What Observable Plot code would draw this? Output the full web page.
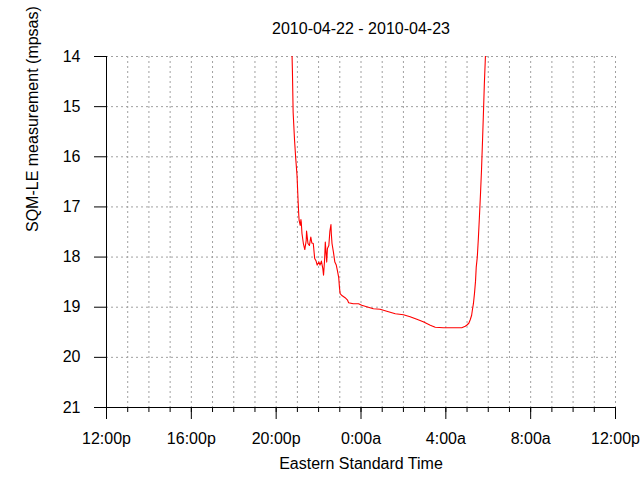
<!DOCTYPE html>
<html>
<head>
<meta charset="utf-8">
<script src="https://cdn.jsdelivr.net/npm/d3@7"></script>
<script src="https://cdn.jsdelivr.net/npm/@observablehq/plot@0.6"></script>
<style>
  html, body { margin: 0; padding: 0; background: #fff; }
  #chart svg { display: block; }
</style>
</head>
<body>
<div id="chart"></div>
<script>
// Chart texts
const titleText = "2010-04-22 - 2010-04-23";
const xLabel = "Eastern Standard Time";
const yLabel = "SQM-LE measurement (mpsas)";

// Tick values / labels (x in hours since 12:00 on 2010-04-22)
const xMajorTicks = [0, 4, 8, 12, 16, 20, 24];
const xTickLabels = ["12:00p", "16:00p", "20:00p", "0:00a", "4:00a", "8:00a", "12:00p"];
const xMinorTicks = [0,1,2,3,4,5,6,7,8,9,10,11,12,13,14,15,16,17,18,19,20,21,22,23,24];
const yTicks = [14, 15, 16, 17, 18, 19, 20, 21];
const yGrid = [14, 15, 16, 17, 18, 19, 20];
const xGrid = [1,2,3,4,5,6,7,8,9,10,11,12,13,14,15,16,17,18,19,20,21,22,23,24];

// Readings (clock time, EST) and SQM values (mpsas)
const times = [
  "20:44","20:46","20:48","20:52","20:55","20:59","21:02","21:04","21:05","21:08",
  "21:10","21:11","21:13","21:17","21:21","21:25","21:26","21:30","21:34","21:38",
  "21:41","21:45","21:49","21:53","21:56","22:01","22:04","22:08","22:12","22:14",
  "22:17","22:19","22:23","22:25","22:29","22:32","22:35","22:36","22:38","22:42",
  "22:46","22:50","22:53","22:57","22:59","23:01","23:05","23:15","23:22","23:25",
  "23:38","23:53","00:02","00:16","00:35","00:54","01:13","01:37","02:00","02:19",
  "02:38","02:56","03:16","03:30","03:53","04:22","04:45","04:55","04:59","05:05",
  "05:09","05:13","05:15","05:18","05:21","05:24","05:26","05:29","05:32","05:35",
  "05:38","05:41","05:44","05:46","05:49","05:52","05:55"
];
const values = [
  13.70,14.30,15.11,15.67,16.00,16.37,16.87,17.17,17.27,17.37,
  17.25,17.30,17.53,17.73,17.85,17.67,17.48,17.73,17.77,17.60,
  17.72,17.73,18.03,18.08,18.16,18.10,18.16,18.08,18.23,18.36,
  18.06,17.70,18.10,17.83,17.77,17.48,17.35,17.53,17.73,17.90,
  18.10,18.16,18.26,18.41,18.60,18.73,18.76,18.81,18.86,18.91,
  18.93,18.93,18.96,18.99,19.03,19.04,19.08,19.13,19.15,19.19,
  19.24,19.29,19.36,19.40,19.41,19.41,19.41,19.38,19.36,19.32,
  19.25,19.16,19.06,18.93,18.73,18.48,18.20,18.00,17.63,17.20,
  16.75,16.25,15.64,15.21,14.54,14.00,13.40
];

function hoursSinceNoon(t) {
  const [hh, mm] = t.split(":").map(Number);
  return ((hh - 12 + 24) % 24) + mm / 60;
}
const data = times.map((t, i) => ({h: hoursSinceNoon(t), v: values[i]}));

const FONT = "'Liberation Sans', Arial, sans-serif";
const gridStyle = {stroke: "#a0a0a0", strokeDasharray: "2,3", strokeWidth: 1};

const chart = Plot.plot({
  width: 640,
  height: 480,
  marginTop: 56,
  marginBottom: 73,
  marginLeft: 106,
  marginRight: 25,
  style: {background: "#fff", color: "#000", fontFamily: FONT, fontSize: "16px"},
  x: {domain: [0, 24], type: "linear"},
  y: {domain: [14, 21], reverse: true},
  marks: [
    Plot.ruleY(yGrid, gridStyle),
    Plot.ruleX(xGrid, gridStyle),
    Plot.line(data, {x: "h", y: "v", stroke: "#ff0000", strokeWidth: 1.1, clip: true}),
    Plot.ruleX([0], {stroke: "#000"}),
    Plot.ruleY([21], {stroke: "#000"}),
    Plot.axisY({ticks: yTicks, tickSize: 12, tickPadding: 14, label: null, tickFormat: d => String(d), fontSize: 16}),
    Plot.axisX({ticks: xMinorTicks, tickSize: 5, tickFormat: () => "", label: null}),
    Plot.axisX({ticks: xMajorTicks, tickSize: 12, tickPadding: 13, label: null,
      tickFormat: (d) => xTickLabels[xMajorTicks.indexOf(d)], fontSize: 16}),
    Plot.text([titleText], {frameAnchor: "top", dy: -34, fontSize: 16, fill: "#000"}),
    Plot.text([xLabel], {frameAnchor: "bottom", dy: 61, fontSize: 16, fill: "#000"}),
    Plot.text([yLabel], {frameAnchor: "left", dx: -74, rotate: -90, fontSize: 16, fill: "#000"})
  ]
});
document.getElementById("chart").appendChild(chart);
</script>
</body>
</html>
